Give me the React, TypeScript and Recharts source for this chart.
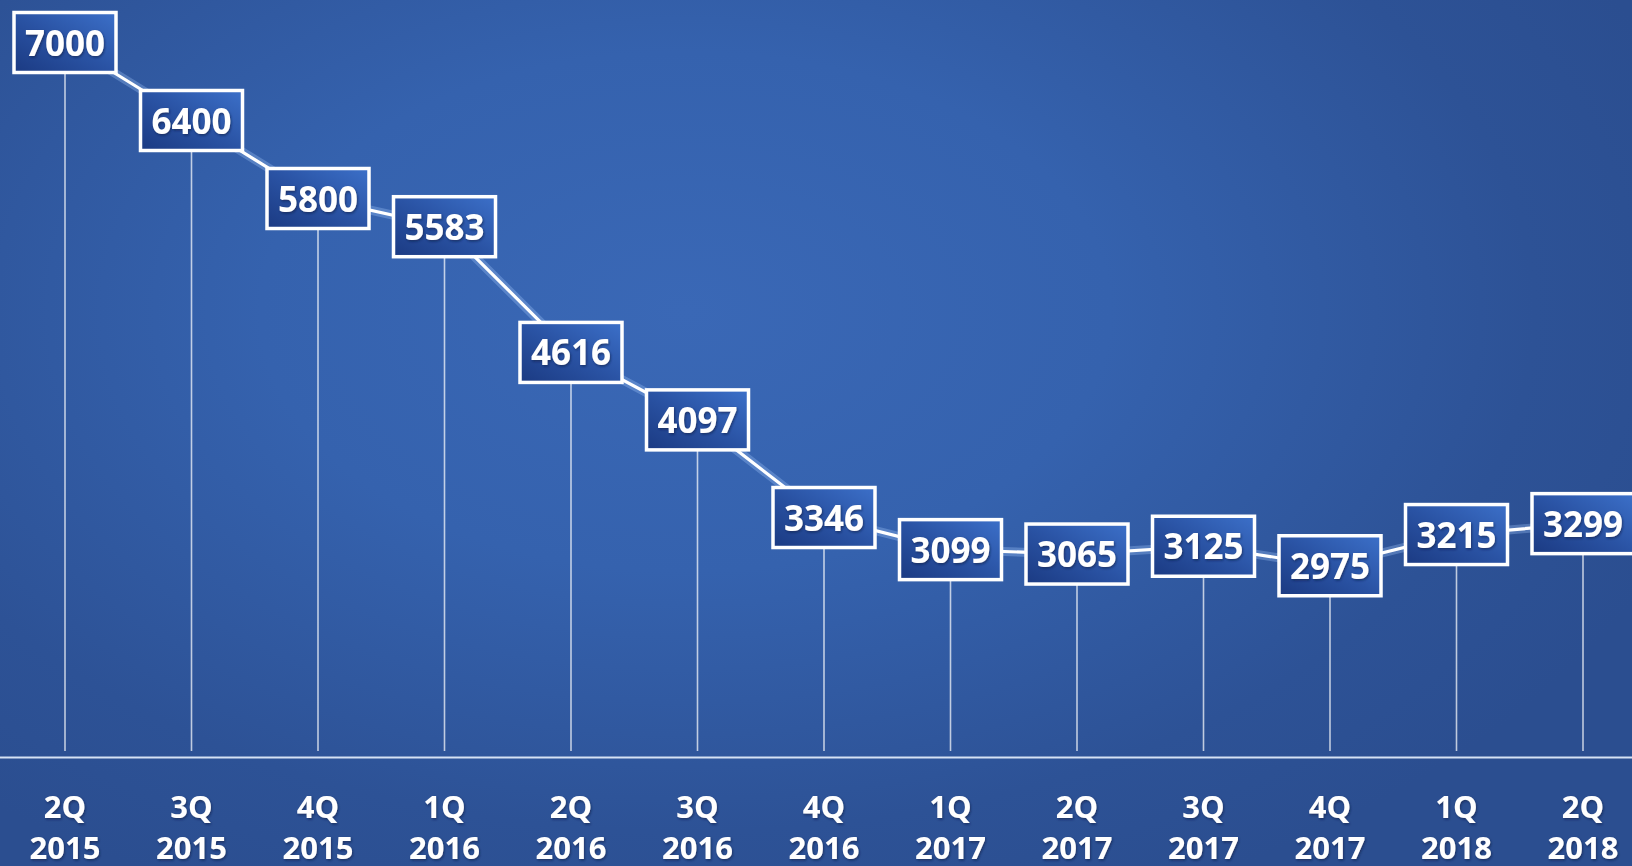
import React from 'react';
import { LineChart, Line, XAxis, YAxis, ReferenceLine } from 'recharts';

const quarters = ['2Q', '3Q', '4Q', '1Q', '2Q', '3Q', '4Q', '1Q', '2Q', '3Q', '4Q', '1Q', '2Q'];
const years = ['2015', '2015', '2015', '2016', '2016', '2016', '2016', '2017', '2017', '2017', '2017', '2018', '2018'];
const values = [7000, 6400, 5800, 5583, 4616, 4097, 3346, 3099, 3065, 3125, 2975, 3215, 3299];
const yDomain: [number, number] = [1500, 7250];

const data = values.map((v, i) => ({ cat: `${quarters[i]} ${years[i]}`, value: v }));

const FONT = '"Open Sans", "DejaVu Sans", sans-serif';

const QuarterTick = (props: any) => {
  const { x, y, payload } = props;
  const [q, yr] = String(payload.value).split(' ');
  return (
    <g>
      <text
        x={x}
        y={y}
        textAnchor="middle"
        fill="#ffffff"
        fontSize={31}
        fontWeight={700}
        fontFamily={FONT}
        filter="url(#txtShadow)"
      >
        <tspan x={x} dy={60}>{q}</tspan>
        <tspan x={x} dy={41}>{yr}</tspan>
      </text>
    </g>
  );
};

const renderBox = (props: any) => {
  const { cx, cy, index, payload } = props;
  if (cx == null || cy == null) return <g key={`b-${index}`} />;
  return (
    <g key={`box-${index}`}>
      <rect
        x={cx - 51}
        y={cy - 30}
        width={102}
        height={60}
        fill="url(#boxFill)"
        stroke="#ffffff"
        strokeWidth={3.5}
      />
      <text
        x={cx}
        y={cy + 13}
        textAnchor="middle"
        fill="#ffffff"
        fontSize={35}
        fontWeight={700}
        fontFamily={FONT}
        filter="url(#txtShadow)"
      >
        {payload.value}
      </text>
    </g>
  );
};

export default function App() {
  return (
    <div
      style={{
        position: 'absolute',
        left: 0,
        top: 0,
        width: 1632,
        height: 866,
        overflow: 'hidden',
        background:
          'radial-gradient(ellipse 65% 75% at 42% 36%, #3a68b6 0%, #3562ae 40%, #2d5296 80%, #2b4e90 100%)',
      }}
    >
      <svg width={0} height={0} style={{ position: 'absolute' }}>
        <defs>
          <linearGradient id="boxFill" x1="0" y1="1" x2="1" y2="0">
            <stop offset="0%" stopColor="#1b3a82" />
            <stop offset="50%" stopColor="#2a53a4" />
            <stop offset="100%" stopColor="#3c70c9" />
          </linearGradient>
          <filter id="txtShadow" x="-20%" y="-20%" width="140%" height="140%">
            <feDropShadow dx="1" dy="1.5" stdDeviation="1.2" floodColor="#0b1c45" floodOpacity="0.6" />
          </filter>
        </defs>
      </svg>
      <LineChart
        width={1632}
        height={866}
        data={data}
        margin={{ top: 10, right: 0, left: 0, bottom: 0 }}
      >
        <XAxis
          dataKey="cat"
          height={108.5}
          padding={{ left: 65, right: 49 }}
          axisLine={{ stroke: '#d6e2f4', strokeWidth: 2 }}
          tickLine={false}
          tickSize={0}
          tickMargin={0}
          interval={0}
          tick={<QuarterTick />}
        />
        <YAxis hide domain={yDomain} type="number" allowDataOverflow />
        {data.map((d) => (
          <ReferenceLine
            key={d.cat}
            segment={[
              { x: d.cat, y: yDomain[0] + 50 },
              { x: d.cat, y: d.value },
            ]}
            stroke="rgba(255,255,255,0.7)"
            strokeWidth={1.6}
          />
        ))}
        <Line
          dataKey="value"
          stroke="rgba(170,205,255,0.3)"
          strokeWidth={9}
          dot={false}
          activeDot={false}
          isAnimationActive={false}
          type="linear"
        />
        <Line
          dataKey="value"
          stroke="#ffffff"
          strokeWidth={3.2}
          dot={renderBox}
          activeDot={false}
          isAnimationActive={false}
          type="linear"
        />
      </LineChart>
    </div>
  );
}
